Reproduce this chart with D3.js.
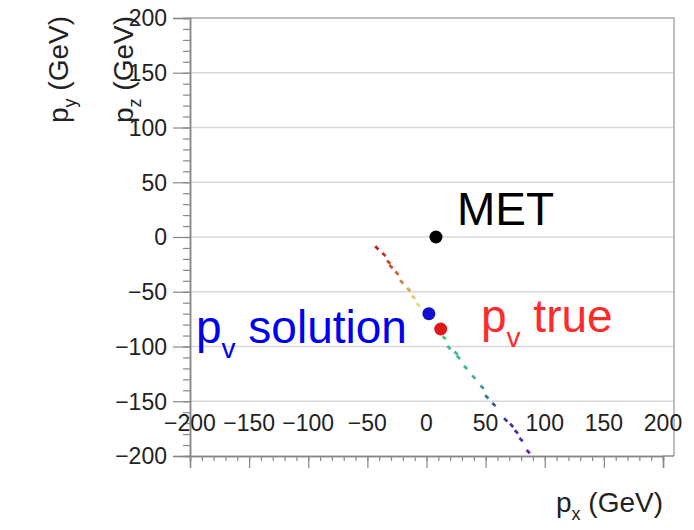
<!DOCTYPE html>
<html>
<head>
<meta charset="utf-8">
<script src="https://cdn.jsdelivr.net/npm/d3@7"></script>
<style>
  body { margin: 0; background: #fff; }
  svg { display: block; font-family: "Liberation Sans", Arial, sans-serif; }
</style>
</head>
<body>
<script>
(function() {

	// solution scan points (px, py) in GeV
	var scanX = [-42, -36, -32, -30, -25, -21, -15, -11, -7, 15, 19, 25, 27, 33, 40, 47, 51, 57, 67, 72, 76, 80, 86];
	var scanY = [-10, -16, -23, -27, -33, -41, -48, -55, -62, -92, -101, -106, -110, -119, -128, -137, -146, -153, -167, -172, -178, -185, -196];

	// named markers
	var markerNames = ["MET", "solution", "true"];
	var markerX = [8, 2, 12];
	var markerY = [0, -70, -84];

	var tickValues = [-200, -150, -100, -50, 0, 50, 100, 150, 200];
	var gridValues = [150, 100, 50, 0, -50, -100, -150];

	var width = 694, height = 530;

	var svg = d3.select("body").append("svg")
		.attr("width", width)
		.attr("height", height);

	var x = d3.scaleLinear().domain([-200, 200]).range([190, 663]);
	var y = d3.scaleLinear().domain([-200, 200]).range([456, 18]);
	var frameRight = 674;

	var fmt = function(d) { return d < 0 ? "\u2212" + Math.abs(d) : "" + d; };

	// grid lines
	svg.append("g").selectAll("line").data(gridValues).enter().append("line")
		.attr("x1", x(-200)).attr("x2", frameRight)
		.attr("y1", function(d) { return y(d); })
		.attr("y2", function(d) { return y(d); })
		.attr("stroke", "#d8d8d8").attr("stroke-width", 1.5);

	// frame top + right
	svg.append("path")
		.attr("d", "M" + x(-200) + "," + y(200) + "H" + frameRight + "V" + y(-200))
		.attr("fill", "none").attr("stroke", "#aaa").attr("stroke-width", 1.5);

	// left axis
	var yAxis = d3.axisLeft(y).tickValues(tickValues).tickSize(17).tickFormat("");
	var yMinor = d3.axisLeft(y).ticks(40).tickSize(7).tickFormat("");
	svg.append("g").attr("transform", "translate(" + x(-200) + ",0)").call(yMinor);
	svg.append("g").attr("transform", "translate(" + x(-200) + ",0)").call(yAxis);

	// bottom axis
	var xAxis = d3.axisBottom(x).tickValues(tickValues).tickSize(12).tickFormat("");
	var xMinor = d3.axisBottom(x).ticks(40).tickSize(5).tickFormat("");
	svg.append("g").attr("transform", "translate(0," + y(-200) + ")").call(xMinor);
	svg.append("g").attr("transform", "translate(0," + y(-200) + ")").call(xAxis);
	svg.append("line")
		.attr("x1", x(200)).attr("x2", frameRight)
		.attr("y1", y(-200)).attr("y2", y(-200))
		.attr("stroke", "#888").attr("stroke-width", 1.5);

	svg.selectAll(".domain").attr("stroke", "#888").attr("stroke-width", 1.5);
	svg.selectAll(".tick line").attr("stroke", "#888").attr("stroke-width", 1.2);

	// y tick labels
	svg.append("g").selectAll("text").data(tickValues).enter().append("text")
		.attr("x", 167)
		.attr("y", function(d) { return y(d); })
		.attr("dy", "0.36em")
		.attr("text-anchor", "end")
		.attr("font-size", 23)
		.attr("fill", "#222")
		.text(fmt);

	// x tick labels (floating row)
	svg.append("g").selectAll("text").data(tickValues).enter().append("text")
		.attr("x", function(d) { return x(d); })
		.attr("y", 423)
		.attr("dy", "0.36em")
		.attr("text-anchor", "middle")
		.attr("font-size", 23)
		.attr("fill", "#222")
		.text(fmt);

	// axis titles
	var axisTitle = function(g, main, sub) {
		g.append("tspan").text(main);
		g.append("tspan").attr("font-size", 18).attr("dy", 8).text(sub);
		g.append("tspan").attr("dy", -8).text(" (GeV)");
	};
	axisTitle(svg.append("text")
		.attr("transform", "translate(68,16) rotate(-90)")
		.attr("text-anchor", "end").attr("font-size", 28).attr("fill", "#222"), "p", "y");
	axisTitle(svg.append("text")
		.attr("transform", "translate(133,16) rotate(-90)")
		.attr("text-anchor", "end").attr("font-size", 28).attr("fill", "#222"), "p", "z");
	axisTitle(svg.append("text")
		.attr("x", 663).attr("y", 512)
		.attr("text-anchor", "end").attr("font-size", 28).attr("fill", "#222"), "p", "x");

	// scan points as short dashes along the line
	var color = d3.scaleLinear()
		.domain([-10, -40, -60, -95, -130, -160, -196])
		.range(["#c02020", "#d08040", "#e8e070", "#40c080", "#40b0b0", "#304090", "#7020c0"]);
	var pts = d3.range(scanX.length);
	svg.append("g").selectAll("line").data(pts).enter().append("line")
		.attr("x1", function(i) { return x(scanX[i]) - 1.6; })
		.attr("y1", function(i) { return y(scanY[i]) - 1.6; })
		.attr("x2", function(i) { return x(scanX[i]) + 1.6; })
		.attr("y2", function(i) { return y(scanY[i]) + 1.6; })
		.attr("stroke", function(i) { return color(scanY[i]); })
		.attr("stroke-width", 2.8);

	// markers
	var markerColor = ["#000", "#1010d0", "#e01818"];
	svg.append("g").selectAll("circle").data(markerNames).enter().append("circle")
		.attr("cx", function(d, i) { return x(markerX[i]); })
		.attr("cy", function(d, i) { return y(markerY[i]); })
		.attr("r", 6.5)
		.attr("fill", function(d, i) { return markerColor[i]; });

	// labels
	svg.append("text").attr("x", 457).attr("y", 225)
		.attr("font-size", 46).attr("fill", "#000").text("MET");

	var pvLabel = function(xp, yp, col, word) {
		var t = svg.append("text").attr("x", xp).attr("y", yp)
			.attr("font-size", 46).attr("fill", col);
		t.append("tspan").text("p");
		t.append("tspan").attr("font-size", 28).attr("dy", 15).text("v");
		t.append("tspan").attr("dy", -15).text(" " + word);
	};
	pvLabel(196, 343, "#0000ee", "solution");
	pvLabel(481, 332, "#ff2a2a", "true");

})();
</script>
</body>
</html>
